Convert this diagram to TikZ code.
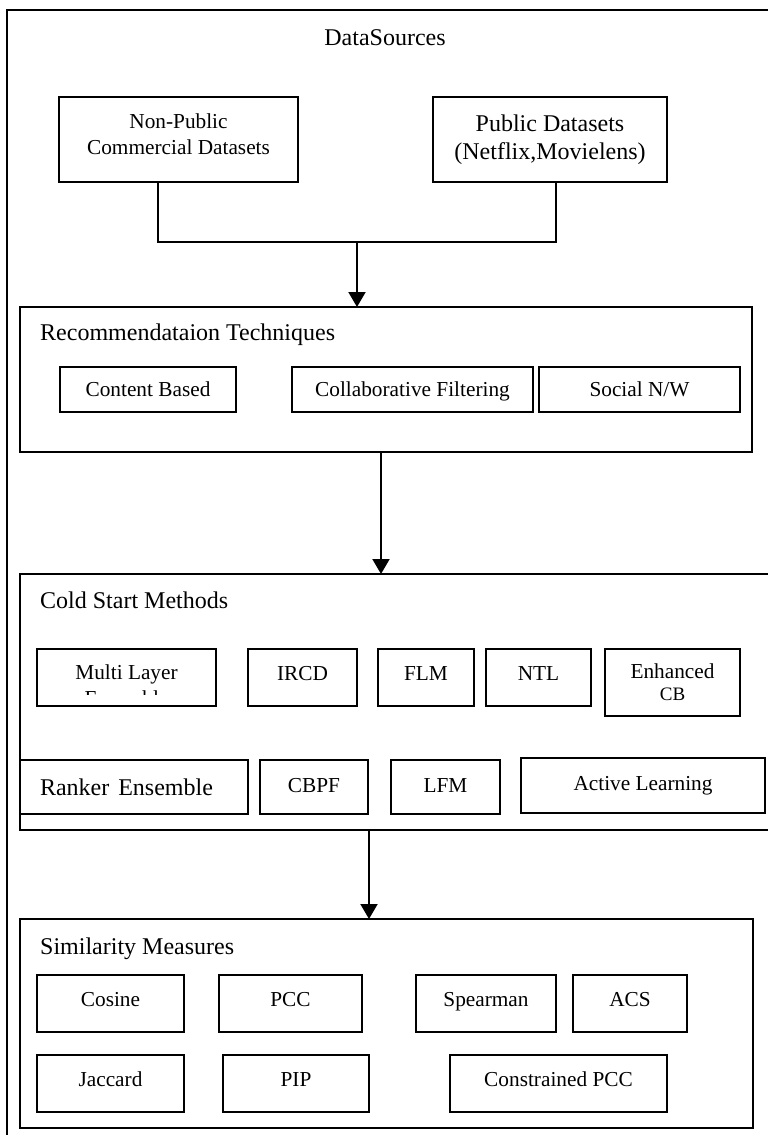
\documentclass[tikz,border=0pt]{standalone}
\usepackage{fontspec}
\setmainfont{Liberation Serif}
\usetikzlibrary{arrows.meta,calc}
\begin{document}
\begin{tikzpicture}[x=1pt,y=-1pt,
  big/.style={draw, line width=2pt, inner sep=0pt, outer sep=0pt},
  ghost/.style={inner sep=0pt, outer sep=0pt},
  sbox/.style={draw, line width=1.7pt, inner sep=0pt, outer sep=0pt, font=\fontsize{21.3}{26}\selectfont},
  up/.style={text height=14.2pt, text depth=9pt},
  upl/.style={text height=14.2pt, text depth=4pt},
  mid/.style={text height=14.2pt, text depth=0pt},
  title/.style={inner sep=0pt, font=\fontsize{24}{28}\selectfont, text height=16pt, text depth=0pt},
  frame/.style={line width=2pt},
  conn/.style={line width=1.7pt},
  arr/.style={line width=2pt, -{Triangle[length=15pt,width=17pt]}},
]
\useasboundingbox (0,0) rectangle (768,1135);

% outer frame (DataSources)
\node[ghost, minimum width=761pt, minimum height=1125pt] (outer) at (387.5,572.5) {};
\draw[frame] (outer.north east) -- (outer.north west) -- (outer.south west);
\node[title] (dstitle) at (385,37) {DataSources};

\node[sbox, minimum width=239pt, minimum height=85pt, align=center, text depth=11.5pt] (np) at (178.5,139.5) {Non-Public\\Commercial Datasets};
\node[sbox, minimum width=234pt, minimum height=85pt, align=center, font=\fontsize{24}{28}\selectfont] (pub) at (550,139.5) {Public Datasets\\(Netflix,Movielens)};

\coordinate (j) at (357,242);
\draw[conn] ([xshift=-20.5pt]np.south) |- (j) -| ([xshift=6pt]pub.south);

% Recommendation techniques
\node[big, minimum width=732.4pt, minimum height=145pt] (rec) at (385.8,379.5) {};
\draw[arr] (j) -- (j |- rec.north);
\node[title, anchor=west] (rectitle) at (40,332) {Recommendataion Techniques};
\node[sbox, mid, minimum width=176pt, minimum height=45pt] (cb) at (148,389.5) {Content Based};
\node[sbox, mid, minimum width=241pt, minimum height=45pt] (cf) at (412.5,389.5) {Collaborative Filtering};
\node[sbox, mid, minimum width=201pt, minimum height=45pt] (sn) at (639.5,389.5) {Social N/W};

% Cold start methods
\node[ghost, minimum width=748.5pt, minimum height=256pt] (cold) at (393.75,702) {};
\draw[frame] (cold.north east) -- (cold.north west) -- (cold.south west) -- (cold.south east);
\coordinate (a2) at ([xshift=-4.8pt]rec.south);
\draw[arr] (a2) -- (a2 |- cold.north);
\node[title, anchor=west] (coldtitle) at (40,600) {Cold Start Methods};

\node[sbox, minimum width=179pt, minimum height=57pt] (ml) at (126.5,677.5) {};
\begin{scope}
  \clip (ml.north west) rectangle ([yshift=12pt]ml.south east);
  \node[align=center, anchor=north, inner sep=0pt, font=\fontsize{21.3}{26}\selectfont] (mlt) at (126.5,664.5) {Multi Layer\\Ensemble};
\end{scope}
\node[sbox, up, minimum width=109pt, minimum height=57pt] (ircd) at (302.5,677.5) {IRCD};
\node[sbox, up, minimum width=96pt, minimum height=57pt] (flm) at (426,677.5) {FLM};
\node[sbox, up, minimum width=105pt, minimum height=57pt] (ntl) at (538.5,677.5) {NTL};
\node[sbox, minimum width=135pt, minimum height=67pt, align=center] (ecb) at (672.5,682.5) {Enhanced\\[-4pt]{\fontsize{19}{22}\selectfont CB}};

\node[sbox, minimum width=228.4pt, minimum height=54pt, font=\fontsize{24}{28}\selectfont, text height=16pt, text depth=0pt, text width=187.6pt, align=left, inner xsep=20.4pt] (rk) at (133.8,787) {Ranker\hspace{9pt}Ensemble};
\node[sbox, upl, minimum width=108pt, minimum height=54pt] (cbpf) at (314,787) {CBPF};
\node[sbox, upl, minimum width=109pt, minimum height=54pt] (lfm) at (445.5,787) {LFM};
\node[sbox, upl, minimum width=244pt, minimum height=55pt] (al) at (643,785.5) {Active Learning};

% Similarity measures
\node[big, minimum width=733.4pt, minimum height=209pt] (sim) at (386.3,1023.5) {};
\coordinate (a3) at ([xshift=-24.75pt]cold.south);
\draw[arr] (a3) -- (a3 |- sim.north);
\node[title, anchor=west] (simtitle) at (40,946) {Similarity Measures};

\node[sbox, up, minimum width=147pt, minimum height=57pt] (cos) at (110.5,1003.5) {Cosine};
\node[sbox, up, minimum width=143pt, minimum height=57pt] (pcc) at (290.5,1003.5) {PCC};
\node[sbox, up, minimum width=140pt, minimum height=57pt] (sp) at (486,1003.5) {Spearman};
\node[sbox, up, minimum width=114pt, minimum height=57pt] (acs) at (630,1003.5) {ACS};
\node[sbox, up, minimum width=147pt, minimum height=57pt] (jac) at (110.5,1083.5) {Jaccard};
\node[sbox, up, minimum width=146pt, minimum height=57pt] (pip) at (296,1083.5) {PIP};
\node[sbox, up, minimum width=217pt, minimum height=57pt] (cpcc) at (558.5,1083.5) {Constrained PCC};
\end{tikzpicture}
\end{document}
